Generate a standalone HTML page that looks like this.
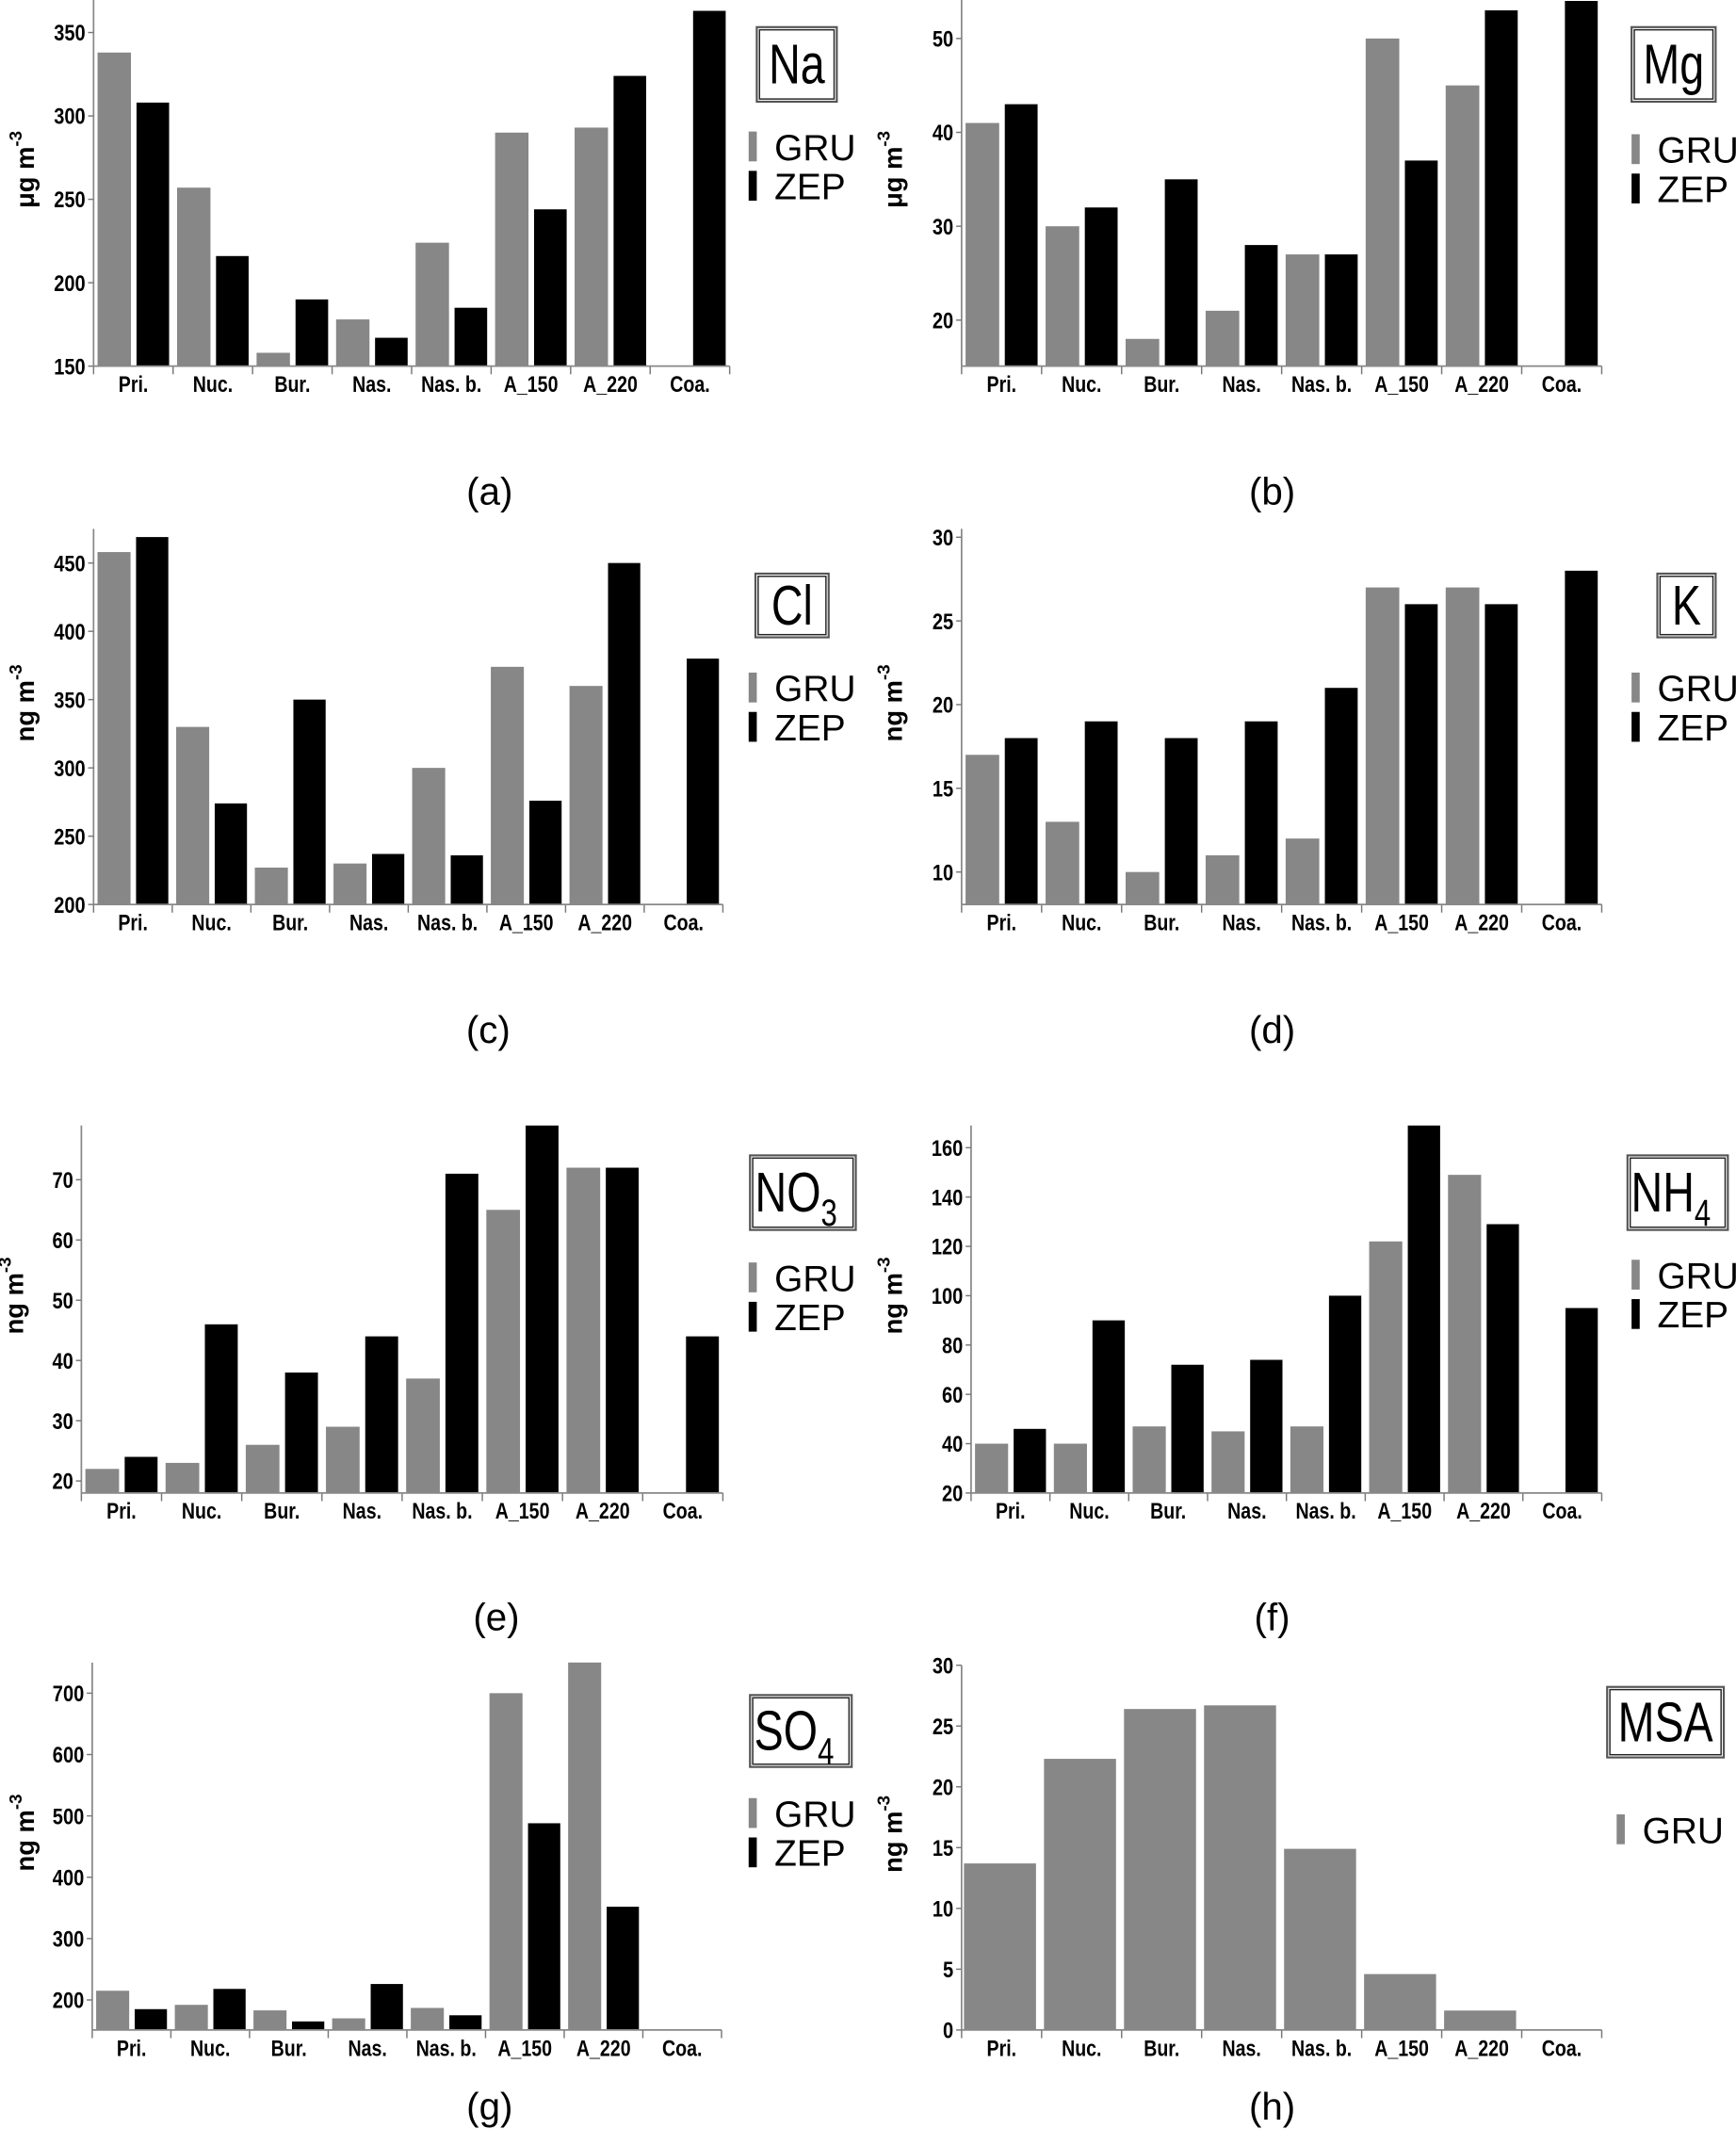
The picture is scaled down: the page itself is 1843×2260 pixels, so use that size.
<!DOCTYPE html>
<html><head><meta charset="utf-8">
<style>
html,body{margin:0;padding:0;background:#fff;}
svg{display:block;}
text{font-family:"Liberation Sans Narrow","Liberation Sans",sans-serif;}
</style></head>
<body>
<svg id="fig" width="1843" height="2260" viewBox="0 0 1280 1570" preserveAspectRatio="none" xmlns="http://www.w3.org/2000/svg"></svg>
<script>
const categories = ["Pri.","Nuc.","Bur.","Nas.","Nas. b.","A_150","A_220","Coa."];
const naGRU = [338,257,158,178,224,290,293,null];
const naZEP = [308,216,190,167,185,244,324,363];
const naTicks = [150,200,250,300,350];
const mgGRU = [41,30,18,21,27,50,45,null];
const mgZEP = [43,32,35,28,27,37,53,54];
const mgTicks = [20,30,40,50];
const clGRU = [458,330,227,230,300,374,360,null];
const clZEP = [469,274,350,237,236,276,450,380];
const clTicks = [200,250,300,350,400,450];
const kGRU = [17,13,10,11,12,27,27,null];
const kZEP = [18,19,18,19,21,26,26,28];
const kTicks = [10,15,20,25,30];
const no3GRU = [22,23,26,29,37,65,72,null];
const no3ZEP = [24,46,38,44,71,79,72,44];
const no3Ticks = [20,30,40,50,60,70];
const nh4GRU = [40,40,47,45,47,122,149,null];
const nh4ZEP = [46,90,72,74,100,169,129,95];
const nh4Ticks = [20,40,60,80,100,120,140,160];
const so4GRU = [215,192,183,170,187,700,750,null];
const so4ZEP = [185,218,165,226,175,488,352,null];
const so4Ticks = [200,300,400,500,600,700];
const msaGRU = [13.7,22.3,26.4,26.7,14.9,4.6,1.6,0];
const msaTicks = [0,5,10,15,20,25,30];

const NS="http://www.w3.org/2000/svg";
const svg=document.getElementById('fig');
function mk(tag,attrs,parent,txt){const e=document.createElementNS(NS,tag);for(const k in attrs)e.setAttribute(k,attrs[k]);if(txt!==undefined)e.textContent=txt;(parent||svg).appendChild(e);return e;}

const panels=[
 {id:'na',x0:69,x1:538,yb:270,yt:0,vmin:150,vmax:369.5,gru:naGRU,zep:naZEP,ticks:naTicks,unit:'μg m',title:'Na',sub:'',tb:[558,20,59,55],lg:[552,108],cap:['(a)',361,372],ylx:18},
 {id:'mg',x0:709,x1:1181,yb:270,yt:0,vmin:15.1,vmax:54.1,gru:mgGRU,zep:mgZEP,ticks:mgTicks,unit:'μg m',title:'Mg',sub:'',tb:[1203,20,62,55],lg:[1203,110],cap:['(b)',938,372],ylx:658},
 {id:'cl',x0:69,x1:533,yb:667,yt:390,vmin:200,vmax:475,gru:clGRU,zep:clZEP,ticks:clTicks,unit:'ng m',title:'Cl',sub:'',tb:[557,423,54,47],lg:[552,507],cap:['(c)',360,769],ylx:18},
 {id:'k',x0:709,x1:1181,yb:667,yt:390,vmin:8.06,vmax:30.5,gru:kGRU,zep:kZEP,ticks:kTicks,unit:'ng m',title:'K',sub:'',tb:[1222,423,43,47],lg:[1203,507],cap:['(d)',938,769],ylx:658},
 {id:'no3',x0:60,x1:533,yb:1101,yt:830,vmin:18,vmax:79,gru:no3GRU,zep:no3ZEP,ticks:no3Ticks,unit:'ng m',title:'NO',sub:'3',tb:[553,852,78,55],lg:[552,942],cap:['(e)',366,1202],ylx:10},
 {id:'nh4',x0:716,x1:1181,yb:1101,yt:830,vmin:20,vmax:169,gru:nh4GRU,zep:nh4ZEP,ticks:nh4Ticks,unit:'ng m',title:'NH',sub:'4',tb:[1200,852,74,55],lg:[1203,940],cap:['(f)',938,1202],ylx:658},
 {id:'so4',x0:68,x1:532,yb:1497,yt:1226,vmin:151,vmax:750,gru:so4GRU,zep:so4ZEP,ticks:so4Ticks,unit:'ng m',title:'SO',sub:'4',tb:[553,1250,75,53],lg:[552,1337],cap:['(g)',361,1563],ylx:18},
 {id:'msa',x0:709,x1:1181,yb:1497,yt:1228,vmin:0,vmax:30,gru:msaGRU,zep:null,ticks:msaTicks,unit:'ng m',title:'MSA',sub:'',tb:[1185,1244,86,52],lg:[1192,1349],cap:['(h)',938,1563],ylx:658}
];

panels.forEach(p=>{
  const g=mk('g',{});
  
  
  const yS=v=>p.yb-(v-p.vmin)/(p.vmax-p.vmin)*(p.yb-p.yt);
  const w=(p.x1-p.x0)/categories.length;
  const xS=i=>p.x0+i*w;
  categories.forEach((c,i)=>{
    if(p.zep){
      const v=p.gru[i];
      if(v!==null){const b=mk('rect',{x:xS(i)+0.05*w,y:yS(v),width:0.42*w,height:p.yb-yS(v),fill:'#878787'},g);
        }
      const z=p.zep[i];
      if(z!==null){const b=mk('rect',{x:xS(i)+0.54*w,y:yS(z),width:0.41*w,height:p.yb-yS(z),fill:'#000'},g);
        }
    }else{
      const v=p.gru[i];
      const b=mk('rect',{x:xS(i)+0.03*w,y:yS(v),width:0.9*w,height:p.yb-yS(v),fill:'#878787'},g);
      
    }
    const t=mk('text',{x:0,y:0,transform:`translate(${xS(i)+w/2},${p.yb+19}) scale(0.8,1)`,'text-anchor':'middle','font-size':17,'font-weight':'bold'},g,c);
    
    mk('line',{x1:xS(i),x2:xS(i),y1:p.yb,y2:p.yb+6,stroke:'#777','stroke-width':1},g);
  });
  mk('line',{x1:p.x1,x2:p.x1,y1:p.yb,y2:p.yb+6,stroke:'#777','stroke-width':1},g);
  const ax=mk('line',{x1:p.x0,x2:p.x1,y1:p.yb,y2:p.yb,stroke:'#888','stroke-width':1.2},g);
  
  const ay=mk('line',{x1:p.x0,x2:p.x0,y1:p.yt,y2:p.yb,stroke:'#888','stroke-width':1.2},g);
  
  p.ticks.forEach(tv=>{
    mk('line',{x1:p.x0-4,x2:p.x0,y1:yS(tv),y2:yS(tv),stroke:'#777'},g);
    const t=mk('text',{x:0,y:0,transform:`translate(${p.x0-6},${yS(tv)+6}) scale(0.82,1)`,'text-anchor':'end','font-size':17,'font-weight':'bold'},g,String(tv));
    
  });
  const cy=(p.yt+p.yb)/2-10;
  const yl=mk('text',{x:0,y:0,transform:`translate(${p.ylx+7},${cy}) rotate(-90)`,'text-anchor':'middle','font-size':19,'font-weight':'bold','font-family':'"Liberation Sans",sans-serif'},g);
  
  mk('tspan',{},yl,p.unit);
  mk('tspan',{dy:-9,'font-size':13},yl,'-3');
  const [bx,by,bw,bh]=p.tb;
  const box=mk('rect',{x:bx,y:by,width:bw,height:bh,fill:'#fff',stroke:'#555','stroke-width':1.5},g);
  
  mk('rect',{x:bx+2,y:by+2,width:bw-4,height:bh-4,fill:'none',stroke:'#222','stroke-width':1},g);
  const tt=mk('text',{x:0,y:0,transform:`translate(${bx+bw/2-(p.sub?5:0)},${by+bh/2+14}) scale(0.9,1.15)`,'text-anchor':'middle','font-size':36},g);
  
  mk('tspan',{},tt,p.title);
  if(p.sub)mk('tspan',{dy:9,'font-size':24},tt,p.sub);
  const [lx,ly]=p.lg;
  const l1=mk('g',{},g);
  mk('rect',{x:lx,y:ly-11,width:6,height:22,fill:'#878787'},l1);
  mk('text',{x:lx+19,y:ly+10,'font-size':27},l1,'GRU');
  if(p.zep){
    const l2=mk('g',{},g);
    mk('rect',{x:lx,y:ly+18,width:6,height:22,fill:'#000'},l2);
    mk('text',{x:lx+19,y:ly+39,'font-size':27},l2,'ZEP');
  }
  const cp=mk('text',{x:p.cap[1],y:p.cap[2],'text-anchor':'middle','font-size':28,'font-family':'"Liberation Sans",sans-serif'},g,p.cap[0]);
  
});
</script>
</body></html>
